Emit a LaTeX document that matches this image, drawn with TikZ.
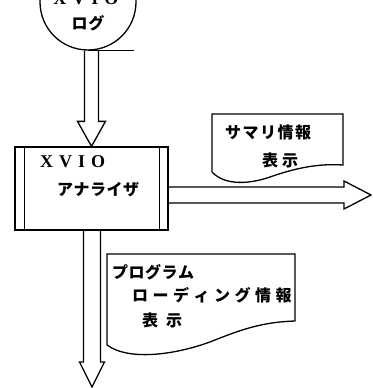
\documentclass[tikz,border=0pt]{standalone}
\usepackage{fontspec}
\newfontfamily\jp{Noto Sans CJK JP}
\newfontfamily\lat{Liberation Serif}
\usetikzlibrary{calc}
\tikzset{
  ln/.style={line width=1.3pt, line join=miter},
  jtext/.style={inner sep=0pt, anchor=west, font=\jp\bfseries\fontsize{16pt}{16pt}\selectfont},
  ltext/.style={inner sep=0pt, anchor=west, font=\lat\bfseries\fontsize{18pt}{18pt}\selectfont},
}
\newcommand\hdown[5]{\draw[ln] let \p1=(#1),\p2=(#2) in
  (\x2-#3pt,\y1) -- (\x2-#3pt,\y2+#5pt) -- (\x2-#4pt,\y2+#5pt) -- (\x2,\y2)
  -- (\x2+#4pt,\y2+#5pt) -- (\x2+#3pt,\y2+#5pt) -- (\x2+#3pt,\y1);}
\newcommand\hright[5]{\draw[ln] let \p1=(#1),\p2=(#2) in
  (\x1,\y2+#3pt) -- (\x2-#5pt,\y2+#3pt) -- (\x2-#5pt,\y2+#4pt) -- (\x2,\y2)
  -- (\x2-#5pt,\y2-#4pt) -- (\x2-#5pt,\y2-#3pt) -- (\x1,\y2-#3pt);}
\begin{document}
\begin{tikzpicture}[x=1pt,y=-1pt]
\useasboundingbox (0,0) rectangle (372,388);
\clip (0,0) rectangle (372,388);
% magnetic tape (log)
\node[draw, ln, circle, minimum size=96pt, inner sep=0pt] (log) at (88,2) {};
\draw[ln] (log.south) -- ++(46,0);
\node[ltext, anchor=center] (logt1) at (86,-1) {X\kern6pt V\kern6pt I\kern6pt O};
\node[jtext, anchor=center] (logt2) at (88,23) {ロ\kern1ptグ};
% analyzer box
\node[draw, ln, minimum width=153pt, minimum height=83pt, inner sep=0pt] (ana) at (91.5,188.5) {};
\draw[ln] ($(ana.north west)+(10,0)$) -- ($(ana.south west)+(10,0)$);
\draw[ln] ($(ana.north east)+(-9,0)$) -- ($(ana.south east)+(-9,0)$);
\node[ltext] (anat1) at (40,162) {X\kern6pt V\kern6pt I\kern6pt O};
\node[jtext] (anat2) at (57,190) {ア\kern0.5ptナ\kern0.5ptラ\kern0.5ptイ\kern0.5ptザ};
% summary document
\coordinate (s1) at (212,114);
\coordinate (s2) at (343,114);
\coordinate (s3) at (343,165);
\coordinate (s4) at (212,172);
\draw[ln] (s4) -- (s1) -- (s2) -- (s3)
  .. controls (315,163) and (290,170) .. (270,177)
  .. controls (250,184) and (225,186) .. (s4);
\node[jtext] (sumt1) at (225,132) {サ\kern1.5ptマ\kern1.5ptリ\kern1.5pt情\kern1.5pt報};
\node[jtext] (sumt2) at (262,160) {表\kern4pt示};
% program loading document
\coordinate (p1) at (107,254);
\coordinate (p2) at (295,254);
\coordinate (p3) at (295,321);
\coordinate (p4) at (107,345);
\draw[ln] (p4) -- (p1) -- (p2) -- (p3)
  .. controls (265,322) and (245,328) .. (215,340)
  .. controls (180,354) and (130,362) .. (p4);
\node[jtext] (prgt1) at (112,272) {プ\kern0.5ptロ\kern0.5ptグ\kern0.5ptラ\kern0.5ptム};
\node[jtext] (prgt2) at (132,295) {ロ\kern4.5ptー\kern4.5ptデ\kern4.5ptィ\kern4.5ptン\kern4.5ptグ\kern4.5pt情\kern4.5pt報};
\node[jtext] (prgt3) at (142,320) {表\kern8pt示};
% hollow arrows
\coordinate (end1) at (371,195);
\coordinate (end2) at (92,387);
\hdown{log.south}{ana.north}{7}{14}{25}
\hright{ana.east}{end1}{8}{14}{27}
\hdown{ana.south}{end2}{8.5}{12.5}{25}
\end{tikzpicture}
\end{document}
